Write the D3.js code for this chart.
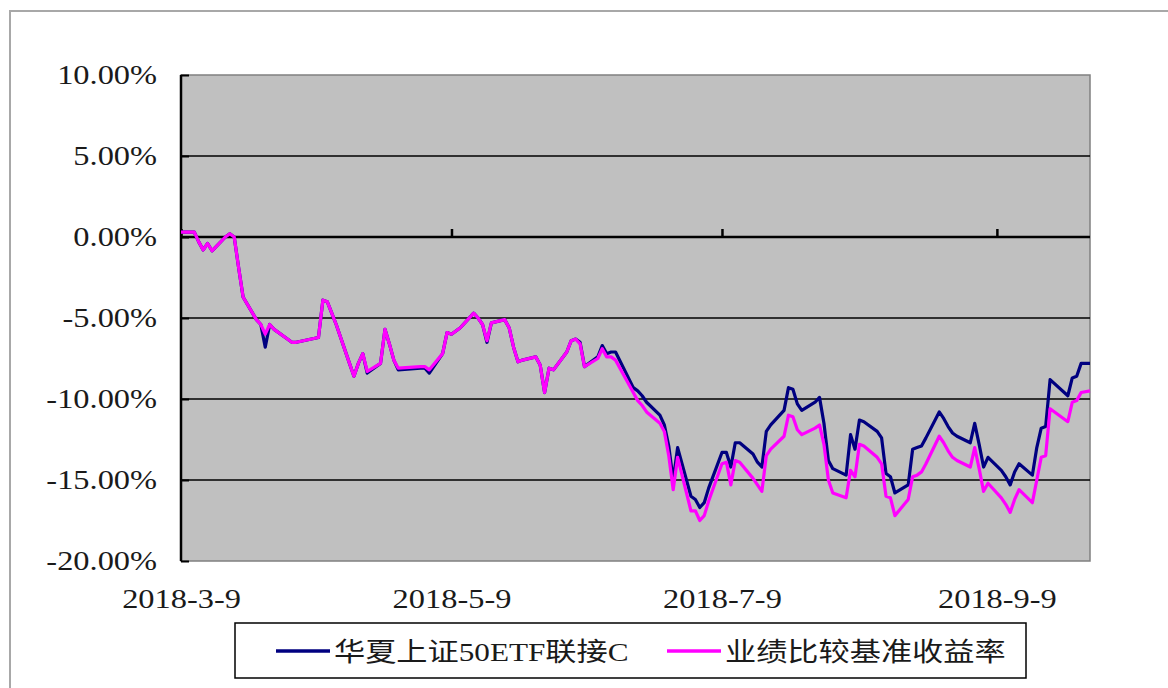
<!DOCTYPE html>
<html lang="zh">
	<head>
		<meta charset="utf-8">
		<title>华夏上证50ETF联接C</title>
		<script type="text/javascript" src="https://cdn.jsdelivr.net/npm/d3@7"></script>
		<style>
			body { margin: 0; background: #fff; }
			text { font-family: "Liberation Serif", "Noto Sans CJK SC", serif; fill: #1a1a1a; }
		</style>
	</head>
	<body>
		<script type="text/javascript">
			// trading days
			var dates = [
				"2018-03-09","2018-03-12","2018-03-13","2018-03-14","2018-03-15","2018-03-16",
				"2018-03-19","2018-03-20","2018-03-21","2018-03-22","2018-03-23",
				"2018-03-26","2018-03-27","2018-03-28","2018-03-29","2018-03-30",
				"2018-04-02","2018-04-03","2018-04-04",
				"2018-04-09","2018-04-10","2018-04-11","2018-04-12","2018-04-13",
				"2018-04-16","2018-04-17","2018-04-18","2018-04-19","2018-04-20",
				"2018-04-23","2018-04-24","2018-04-25","2018-04-26","2018-04-27",
				"2018-05-02","2018-05-03","2018-05-04",
				"2018-05-07","2018-05-08","2018-05-09","2018-05-10","2018-05-11",
				"2018-05-14","2018-05-15","2018-05-16","2018-05-17","2018-05-18",
				"2018-05-21","2018-05-22","2018-05-23","2018-05-24","2018-05-25",
				"2018-05-28","2018-05-29","2018-05-30","2018-05-31","2018-06-01",
				"2018-06-04","2018-06-05","2018-06-06","2018-06-07","2018-06-08",
				"2018-06-11","2018-06-12","2018-06-13","2018-06-14","2018-06-15",
				"2018-06-19","2018-06-20","2018-06-21","2018-06-22",
				"2018-06-25","2018-06-26","2018-06-27","2018-06-28","2018-06-29",
				"2018-07-02","2018-07-03","2018-07-04","2018-07-05","2018-07-06",
				"2018-07-09","2018-07-10","2018-07-11","2018-07-12","2018-07-13",
				"2018-07-16","2018-07-17","2018-07-18","2018-07-19","2018-07-20",
				"2018-07-23","2018-07-24","2018-07-25","2018-07-26","2018-07-27",
				"2018-07-30","2018-07-31","2018-08-01","2018-08-02","2018-08-03",
				"2018-08-06","2018-08-07","2018-08-08","2018-08-09","2018-08-10",
				"2018-08-13","2018-08-14","2018-08-15","2018-08-16","2018-08-17",
				"2018-08-20","2018-08-21","2018-08-22","2018-08-23","2018-08-24",
				"2018-08-27","2018-08-28","2018-08-29","2018-08-30","2018-08-31",
				"2018-09-03","2018-09-04","2018-09-05","2018-09-06","2018-09-07",
				"2018-09-10","2018-09-11","2018-09-12","2018-09-13","2018-09-14",
				"2018-09-17","2018-09-18","2018-09-19","2018-09-20","2018-09-21",
				"2018-09-25","2018-09-26","2018-09-27","2018-09-28","2018-09-30"
			];

			// 华夏上证50ETF联接C, %
			var fund = [
				0.3, 0.3, -0.3, -0.8, -0.4, -0.85,
				0.0, 0.2, 0.0, -1.9, -3.7,
				-5.1, -5.4, -6.8, -5.4, -5.7,
				-6.3, -6.5, -6.5,
				-6.2, -3.9, -4.0, -4.7, -5.4,
				-7.8, -8.6, -7.8, -7.2, -8.4,
				-7.8, -5.7, -6.6, -7.6, -8.2,
				-8.1, -8.1, -8.4,
				-7.2, -5.9, -6.0, -5.8, -5.6,
				-4.7, -5.0, -5.4, -6.5, -5.3,
				-5.1, -5.6, -6.8, -7.7, -7.6,
				-7.4, -7.9, -9.6, -8.1, -8.2,
				-7.1, -6.4, -6.3, -6.5, -8.0,
				-7.4, -6.7, -7.2, -7.1, -7.1,
				-9.3, -9.5, -9.8, -10.2,
				-11.0, -11.6, -12.9, -15.0, -13.0,
				-16.0, -16.2, -16.7, -16.4, -15.5,
				-13.3, -13.3, -14.2, -12.7, -12.7,
				-13.4, -13.9, -14.2, -12.0, -11.6,
				-10.7, -9.3, -9.4, -10.3, -10.7,
				-10.2, -9.9, -11.5, -13.8, -14.3,
				-14.7, -12.2, -13.1, -11.3, -11.4,
				-12.0, -12.4, -14.6, -14.8, -15.8,
				-15.3, -13.1, -13.0, -12.9, -12.4,
				-10.8, -11.2, -11.7, -12.1, -12.3,
				-12.7, -11.5, -12.8, -14.2, -13.6,
				-14.4, -14.8, -15.3, -14.5, -14.0,
				-14.7, -13.0, -11.8, -11.7, -8.8,
				-9.8, -8.7, -8.6, -7.8, -7.8
			];

			// 业绩比较基准收益率, %
			var bench = [
				0.3, 0.3, -0.3, -0.8, -0.4, -0.85,
				0.0, 0.2, 0.0, -1.9, -3.7,
				-5.1, -5.4, -6.0, -5.4, -5.7,
				-6.3, -6.5, -6.5,
				-6.2, -3.9, -4.0, -4.7, -5.4,
				-7.8, -8.6, -7.8, -7.2, -8.3,
				-7.8, -5.7, -6.6, -7.6, -8.1,
				-8.0, -8.0, -8.2,
				-7.2, -5.9, -6.0, -5.8, -5.6,
				-4.7, -5.0, -5.4, -6.4, -5.3,
				-5.1, -5.6, -6.8, -7.7, -7.6,
				-7.4, -7.9, -9.6, -8.1, -8.2,
				-7.1, -6.4, -6.3, -6.6, -8.0,
				-7.5, -6.9, -7.4, -7.4, -7.6,
				-9.6, -10.1, -10.4, -10.8,
				-11.5, -12.0, -13.5, -15.6, -13.6,
				-16.9, -16.9, -17.5, -17.2, -16.3,
				-14.0, -13.9, -15.3, -13.8, -13.9,
				-14.9, -15.3, -15.7, -13.5, -13.1,
				-12.3, -11.0, -11.1, -11.9, -12.2,
				-11.8, -11.6, -12.8, -15.0, -15.8,
				-16.1, -14.4, -14.8, -12.8, -12.9,
				-13.6, -14.0, -16.0, -16.1, -17.2,
				-16.2, -14.8, -14.7, -14.5, -14.0,
				-12.3, -12.7, -13.2, -13.6, -13.8,
				-14.2, -13.0, -14.3, -15.7, -15.2,
				-16.1, -16.5, -17.0, -16.2, -15.6,
				-16.4, -15.0, -13.6, -13.5, -10.6,
				-11.4, -10.2, -10.1, -9.6, -9.5
			];

			var seriesNames = ["华夏上证50ETF联接C", "业绩比较基准收益率"];
			var seriesColors = ["#000080", "#ff00ff"];
			var yTicks = [10, 5, 0, -5, -10, -15, -20];
			var xTicks = ["2018-03-09", "2018-05-09", "2018-07-09", "2018-09-09"];
			var xDomain = ["2018-03-09", "2018-09-30"];

			var w = 1168;
			var h = 688;
			var plot = { left: 181, right: 1090, top: 75, bottom: 561 };
			var stretch = 1.2; // text looks horizontally stretched in the original

			var parse = d3.timeParse("%Y-%m-%d");

			var x = d3.scaleTime()
				.domain(xDomain.map(parse))
				.range([plot.left, plot.right]);
			var y = d3.scaleLinear()
				.domain([-20, 10])
				.range([plot.bottom, plot.top]);

			var svg = d3.select("body")
						.append("svg")
						.attr("width", w)
						.attr("height", h);

			// outer chart frame
			svg.append("rect")
				.attr("x", 10).attr("y", 11)
				.attr("width", w + 20).attr("height", h + 20)
				.attr("fill", "#fff")
				.attr("stroke", "#a8a8a8")
				.attr("stroke-width", 2);

			// plot area
			svg.append("rect")
				.attr("x", plot.left).attr("y", plot.top)
				.attr("width", plot.right - plot.left)
				.attr("height", plot.bottom - plot.top)
				.attr("fill", "#c0c0c0")
				.attr("stroke", "#808080")
				.attr("stroke-width", 1.5);

			// gridlines
			svg.append("g")
				.selectAll("line")
				.data(yTicks.filter(function(d) { return d != -20 && d != 10; }))
				.enter()
				.append("line")
				.attr("x1", plot.left).attr("x2", plot.right)
				.attr("y1", function(d) { return y(d); })
				.attr("y2", function(d) { return y(d); })
				.attr("stroke", "#000")
				.attr("stroke-width", function(d) { return d == 0 ? 2.5 : 1.5; });

			// y axis: line, inside ticks, labels
			svg.append("g")
				.attr("transform", "translate(" + plot.left + ",0)")
				.call(d3.axisRight(y).tickValues(yTicks).tickSize(8).tickFormat(""))
				.call(function(g) { g.select(".domain").remove(); })
				.selectAll("line").attr("stroke", "#000").attr("stroke-width", 2);

			svg.append("line")
				.attr("x1", plot.left).attr("x2", plot.left)
				.attr("y1", plot.top).attr("y2", plot.bottom)
				.attr("stroke", "#000").attr("stroke-width", 2.5);

			var yAxis = svg.append("g")
				.attr("transform", "translate(" + plot.left + ",0)")
				.call(d3.axisLeft(y).tickValues(yTicks).tickSize(0).tickPadding(20)
					.tickFormat(function(d) { return d.toFixed(2) + "%"; }));
			yAxis.select(".domain").remove();
			yAxis.selectAll("text")
				.attr("font-family", null)
				.attr("font-size", null)
				.style("font-size", "27px")
				.attr("transform", "scale(" + stretch + ",1)");

			// x axis: ticks go up from the zero line, labels sit below the plot
			svg.append("g")
				.attr("transform", "translate(0," + y(0) + ")")
				.call(d3.axisTop(x).tickValues(xTicks.map(parse)).tickSize(8).tickFormat(""))
				.call(function(g) { g.select(".domain").remove(); })
				.selectAll("line").attr("stroke", "#000").attr("stroke-width", 2.5);

			var xAxis = svg.append("g")
				.attr("transform", "translate(0," + plot.bottom + ")")
				.call(d3.axisBottom(x).tickValues(xTicks.map(parse)).tickSize(0).tickPadding(28)
					.tickFormat(d3.timeFormat("%Y-%-m-%-d")));
			xAxis.select(".domain").remove();
			xAxis.selectAll("text")
				.attr("font-family", null)
				.attr("font-size", null)
				.style("font-size", "27px")
				.attr("transform", "scale(" + stretch + ",1)");

			// lines
			var line = d3.line()
				.x(function(d) { return x(d.date); })
				.y(function(d) { return y(d.value); });

			[fund, bench].forEach(function(vals, k) {
				var pts = dates.map(function(s, i) { return { date: parse(s), value: vals[i] }; });
				svg.append("path")
					.datum(pts)
					.attr("d", line)
					.attr("fill", "none")
					.attr("stroke", seriesColors[k])
					.attr("stroke-width", 3.2)
					.attr("stroke-linejoin", "round");
			});

			// legend
			var legend = { x: 235, y: 623, w: 791, h: 55 };
			svg.append("rect")
				.attr("x", legend.x).attr("y", legend.y)
				.attr("width", legend.w).attr("height", legend.h)
				.attr("fill", "#fff")
				.attr("stroke", "#000")
				.attr("stroke-width", 1.5);

			var items = [
				{ x1: 276, x2: 330 },
				{ x1: 667, x2: 721 }
			];
			items.forEach(function(it, k) {
				svg.append("line")
					.attr("x1", it.x1).attr("x2", it.x2)
					.attr("y1", legend.y + 28).attr("y2", legend.y + 28)
					.attr("stroke", seriesColors[k])
					.attr("stroke-width", 3.5);
				svg.append("text")
					.attr("transform", "translate(" + (it.x2 + 4) + "," + (legend.y + 38) + ") scale(1.2,1)")
					.style("font-size", "26px")
					.text(seriesNames[k]);
			});
		</script>
	</body>
</html>
